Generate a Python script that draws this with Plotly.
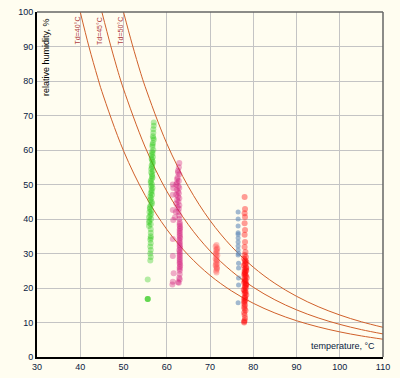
import plotly.graph_objects as go

# ---- data ----
curve_td = [40, 45, 50]
curve40_t = [40, 42, 44, 45, 50, 55, 60, 65, 70, 75, 80, 85, 90, 95, 100, 105, 110]
curve40_rh = [100, 90.0, 81.1, 76.97, 59.79, 46.85, 37.01, 29.51, 23.67, 19.14, 15.57, 12.76, 10.52, 8.73, 7.28, 6.11, 5.15]
curve45_t = [45, 47, 49, 50, 55, 60, 65, 70, 75, 80, 85, 90, 95, 100, 105, 110]
curve45_rh = [100, 90.4, 81.6, 77.68, 60.87, 48.08, 38.34, 30.75, 24.87, 20.23, 16.58, 13.67, 11.34, 9.46, 7.93, 6.69]
curve50_t = [50, 52, 54, 55, 60, 65, 70, 75, 80, 85, 90, 95, 100, 105, 110]
curve50_rh = [100, 90.7, 82.2, 78.36, 61.90, 49.36, 39.58, 32.01, 26.05, 21.34, 17.60, 14.60, 12.18, 10.21, 8.61]

green_t = [57.0, 57.0, 56.9, 56.9, 56.8, 57.0, 56.8, 56.7, 56.9, 56.6, 56.7, 56.8, 56.5, 56.6, 56.7, 56.5,
           56.6, 56.8, 56.4, 56.6, 56.7, 56.5, 56.3, 56.6, 56.4, 56.7, 56.5, 56.3, 56.6, 56.4, 56.2, 56.5,
           56.3, 56.1, 56.4, 56.0, 56.2, 55.9, 56.4, 55.9, 56.3, 55.9, 56.3, 56.3, 56.3, 56.2, 56.3, 56.2,
           56.3, 56.2, 56.3, 56.2, 55.6, 55.6, 55.6, 55.6,
           56.9, 56.7, 56.5, 56.8, 56.4, 56.6, 56.3, 56.5, 56.2, 56.6, 56.1, 56.4, 56.0, 56.3]
green_rh = [68.0, 67.0, 66.0, 65.0, 64.0, 63.0, 62.0, 61.0, 60.0, 59.5, 59.0, 58.0, 57.5, 57.0, 56.0, 55.5,
            55.0, 54.0, 53.5, 53.0, 52.0, 51.5, 51.0, 50.0, 49.5, 49.0, 48.0, 47.5, 47.0, 46.0, 45.5, 45.0,
            44.0, 43.0, 42.5, 42.0, 41.0, 40.5, 40.0, 39.0, 38.5, 38.0, 37.0, 36.0, 35.0, 34.0, 33.0, 32.0,
            31.0, 30.0, 29.0, 28.0, 22.5, 16.8, 16.8, 16.8,
            63.5, 61.5, 58.5, 56.5, 54.5, 52.5, 50.5, 48.5, 46.5, 44.5, 43.5, 41.5, 39.5, 34.5]

magenta_t = [62.9, 62.8, 62.6, 62.9, 62.5, 62.8, 62.4, 62.2, 62.7, 62.9, 62.3, 62.6, 62.8, 62.2, 62.6, 62.9,
             62.4, 62.7, 62.2, 62.9, 62.5, 62.8, 62.1, 62.7, 62.9, 61.9, 62.9, 63.0, 63.0, 63.0, 63.0, 63.0,
             63.0, 62.9, 63.0, 63.0, 63.0, 62.9, 63.0, 63.0, 63.0, 63.0, 63.0, 63.0, 63.0, 63.0, 63.0, 63.0,
             63.0, 62.9, 63.0, 62.8, 61.4, 61.4, 61.4, 61.3, 62.6, 61.4, 61.5, 61.4, 61.4, 61.5, 61.6,
             63.0, 63.1, 63.0, 63.1, 63.0, 63.1, 63.0, 63.1, 62.6, 62.4]
magenta_rh = [56.2, 55.0, 54.0, 53.0, 52.0, 51.0, 50.5, 50.0, 49.5, 49.0, 48.5, 48.0, 47.5, 47.0, 46.5, 46.0,
              45.5, 45.0, 44.5, 44.0, 43.5, 43.0, 42.0, 42.0, 41.0, 40.5, 40.0, 39.0, 38.0, 37.0, 36.5, 36.0,
              35.0, 34.0, 33.5, 33.0, 32.0, 31.0, 30.5, 30.0, 29.0, 28.5, 28.0, 27.5, 27.0, 26.0, 25.5, 25.0,
              24.0, 23.0, 22.5, 21.5, 34.2, 29.3, 21.8, 21.0, 21.7, 50.0, 49.0, 47.0, 42.6, 39.7, 24.3,
              38.5, 37.5, 35.5, 34.5, 32.5, 31.5, 29.5, 26.5, 53.5, 51.5]

salmon_t = [71.5, 71.3, 71.7, 71.4, 71.6, 71.3, 71.7, 71.5, 71.3, 71.6, 71.4, 71.7, 71.3, 71.5, 71.6, 71.4, 71.5,
            71.6, 71.4, 71.5, 71.4, 71.6]
salmon_rh = [32.5, 32.0, 31.5, 31.0, 30.5, 30.0, 29.5, 29.0, 28.5, 28.0, 27.5, 27.0, 26.5, 26.0, 25.5, 25.0, 24.5,
             31.2, 29.8, 28.2, 26.8, 25.8]

blue_t = [76.5, 76.5, 76.5, 76.5, 76.5, 76.5, 76.5, 76.5, 76.5, 76.5, 76.6, 76.6, 76.6, 76.6, 76.6, 76.5]
blue_rh = [42.0, 40.0, 38.0, 36.0, 35.6, 34.5, 33.3, 32.2, 31.0, 29.6, 30.0, 27.2, 25.8, 22.9, 20.9, 15.7]

red_t = [78.0, 78.1, 78.0, 78.1, 78.0, 78.1, 78.0, 78.1, 78.0, 78.2, 78.0, 78.3,
         77.9, 78.2, 78.4, 78.1, 77.8, 78.3, 78.0, 78.4, 78.1, 77.9, 78.3, 78.5, 78.0, 78.2,
         77.9, 78.4, 78.1, 78.3, 77.8, 78.2, 78.0, 78.4, 78.1, 77.9, 78.2, 78.0, 77.9, 78.1,
         77.9, 78.0, 78.2, 78.3, 78.1, 78.0, 78.2, 78.3, 78.1, 78.0, 78.2, 78.1, 78.0, 78.2,
         77.9, 78.0, 78.1, 78.0, 77.9, 77.9, 78.4, 78.2, 78.0, 78.3, 78.1, 77.9]
red_rh = [46.4, 42.9, 41.7, 40.6, 38.8, 36.8, 35.4, 33.3, 31.9, 30.4, 29.6, 29.0,
          28.5, 28.0, 27.5, 27.0, 26.5, 26.0, 25.5, 25.0, 24.5, 24.0, 23.5, 23.0, 22.5, 22.0,
          21.5, 21.0, 20.5, 20.0, 19.5, 19.0, 18.5, 18.0, 17.5, 17.0, 16.5, 16.0, 15.5, 15.0,
          14.5, 14.0, 13.5, 25.2, 24.2, 23.2, 22.2, 21.2, 20.2, 19.2, 26.8, 27.8, 24.8, 18.6,
          12.8, 12.2, 11.3, 10.6, 10.0, 10.3, 25.8, 23.8, 21.8, 20.8, 17.2, 16.2]

fig = go.Figure()

curve_color = "#d0602a"
for t, rh in [(curve40_t, curve40_rh), (curve45_t, curve45_rh), (curve50_t, curve50_rh)]:
    fig.add_trace(go.Scatter(x=t, y=rh, mode="lines", line=dict(color=curve_color, width=1, shape="spline"),
                             hoverinfo="skip", showlegend=False))

def pts(x, y, color, op, size=6):
    fig.add_trace(go.Scatter(x=x, y=y, mode="markers",
                             marker=dict(color=color, size=size, opacity=op, line=dict(width=0)),
                             showlegend=False))

pts(green_t, green_rh, "rgb(40,200,20)", 0.35)
pts(magenta_t, magenta_rh, "rgb(210,20,120)", 0.35)
pts(salmon_t, salmon_rh, "rgb(255,80,80)", 0.35)
pts(blue_t, blue_rh, "rgb(100,140,185)", 0.6, 5)
pts(red_t, red_rh, "rgb(255,10,10)", 0.4)

annotations = []
for td, xpos in zip(curve_td, [39.4, 44.4, 49.4]):
    annotations.append(dict(x=xpos, y=99.2, xref="x", yref="y", text=f"Td={td}°C", showarrow=False,
                            textangle=-90, xanchor="center", yanchor="top",
                            font=dict(size=7, color="#b04040", family="Liberation Sans")))
annotations.append(dict(x=30.3, y=98.5, xref="x", yref="y", text="relative humidity, %", showarrow=False,
                        textangle=-90, xanchor="left", yanchor="top",
                        font=dict(size=9, color="#000000", family="Liberation Sans")))
annotations.append(dict(x=108.5, y=1.2, xref="x", yref="y", text="temperature, °C", showarrow=False,
                        xanchor="right", yanchor="bottom",
                        font=dict(size=9, color="#0a1a40", family="Liberation Sans")))

fig.update_layout(
    width=400, height=378,
    margin=dict(l=37, r=17, t=12, b=21, autoexpand=False),
    paper_bgcolor="#fffdf0", plot_bgcolor="#fffdf0",
    annotations=annotations,
    shapes=[
        dict(type="line", xref="paper", yref="paper", x0=0, x1=1, y0=1, y1=1, line=dict(color="#666666", width=1.5)),
        dict(type="line", xref="paper", yref="paper", x0=1, x1=1, y0=0, y1=1, line=dict(color="#666666", width=1.5)),
    ],
    font=dict(family="Liberation Sans", size=9, color="#0a1a40"),
)
fig.update_xaxes(range=[30, 110], tickvals=list(range(30, 111, 10)), showgrid=True, gridcolor="#c4c4c4",
                 gridwidth=1, zeroline=False, showline=True, linecolor="#000000", linewidth=2, ticks="",
                 automargin=False)
fig.update_yaxes(range=[0, 100], tickvals=list(range(0, 101, 10)), showgrid=True, gridcolor="#c4c4c4",
                 gridwidth=1, zeroline=False, showline=True, linecolor="#000000", linewidth=2, ticks="",
                 automargin=False)

fig.write_html(
    "out.html",
    config={"displayModeBar": False},
    post_script="document.body.style.margin='0';document.body.style.padding='0';"
                "document.body.style.background='#fffdf0';document.body.style.overflow='hidden';",
)
